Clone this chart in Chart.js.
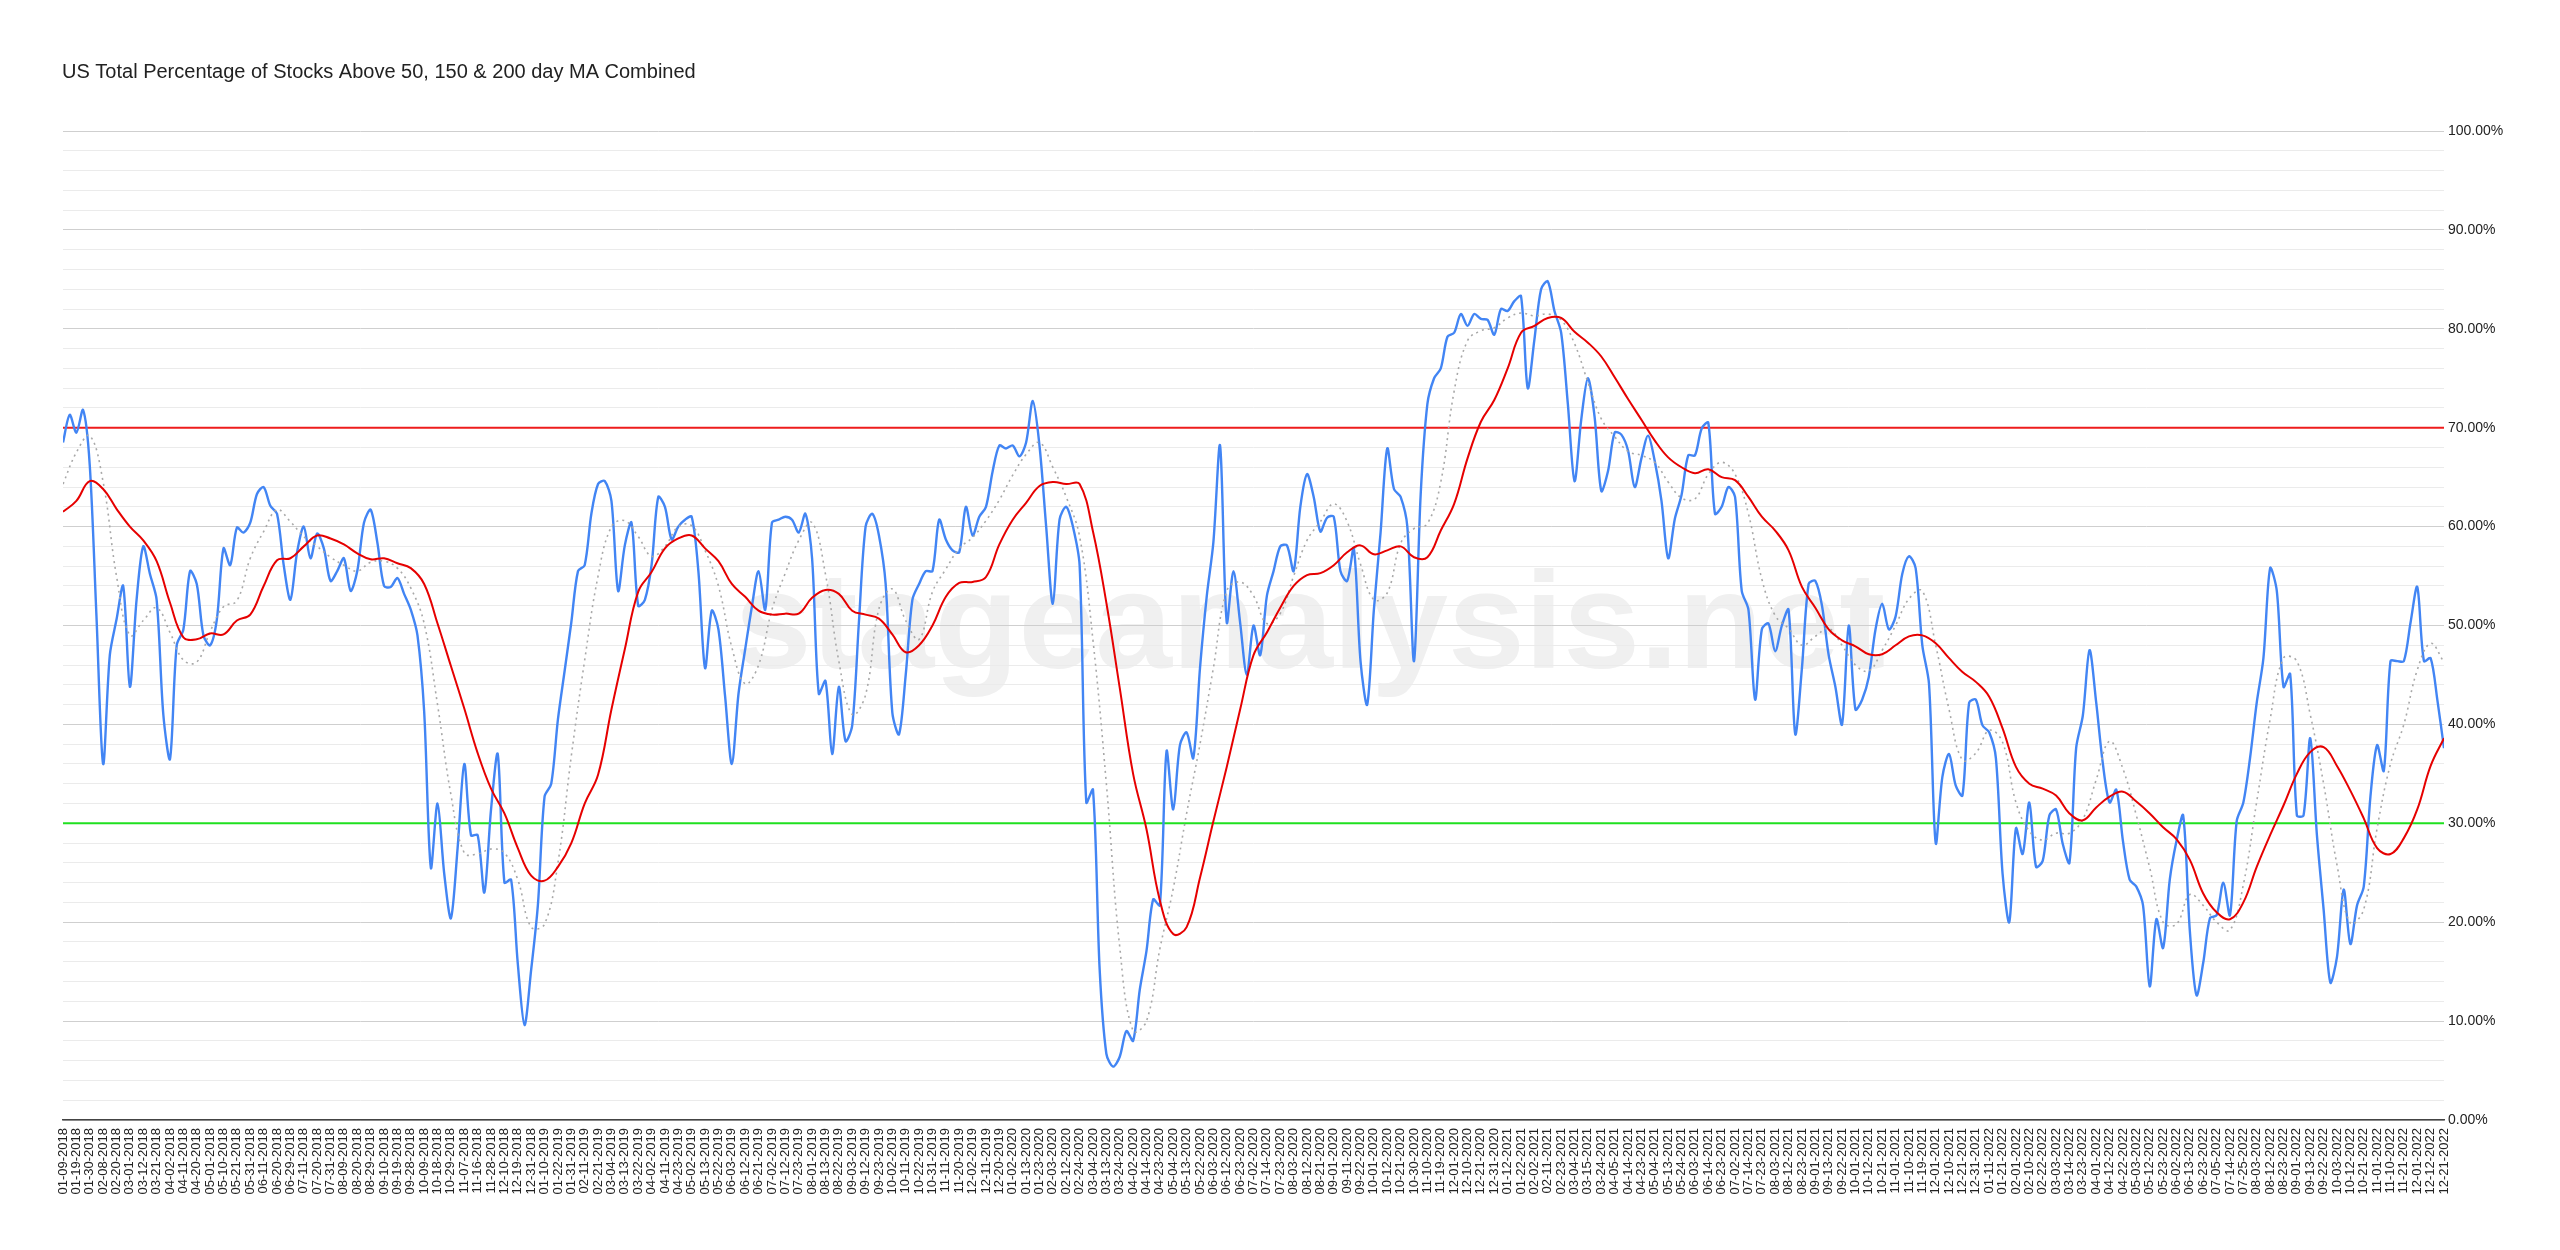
<!DOCTYPE html>
<html>
<head>
<meta charset="utf-8">
<title>US Total Percentage of Stocks Above 50, 150 & 200 day MA Combined</title>
<script src="https://cdn.jsdelivr.net/npm/chart.js@4.4.1/dist/chart.umd.min.js"></script>
<style>
  html, body { margin: 0; padding: 0; background: #fff; }
  #chart { display: block; }
</style>
</head>
<body>
<canvas id="chart" width="2560" height="1250"></canvas>
<script>
// tick labels on the x axis, one every ~7 sessions
const dates = [
  '01-09-2018','01-19-2018','01-30-2018','02-08-2018','02-20-2018','03-01-2018','03-12-2018','03-21-2018','04-02-2018','04-11-2018','04-20-2018','05-01-2018','05-10-2018','05-21-2018','05-31-2018','06-11-2018','06-20-2018','06-29-2018','07-11-2018','07-20-2018','07-31-2018','08-09-2018','08-20-2018','08-29-2018','09-10-2018','09-19-2018','09-28-2018','10-09-2018','10-18-2018','10-29-2018','11-07-2018','11-16-2018','11-28-2018','12-10-2018','12-19-2018','12-31-2018',
  '01-10-2019','01-22-2019','01-31-2019','02-11-2019','02-21-2019','03-04-2019','03-13-2019','03-22-2019','04-02-2019','04-11-2019','04-23-2019','05-02-2019','05-13-2019','05-22-2019','06-03-2019','06-12-2019','06-21-2019','07-02-2019','07-12-2019','07-23-2019','08-01-2019','08-13-2019','08-22-2019','09-03-2019','09-12-2019','09-23-2019','10-02-2019','10-11-2019','10-22-2019','10-31-2019','11-11-2019','11-20-2019','12-02-2019','12-11-2019','12-20-2019',
  '01-02-2020','01-13-2020','01-23-2020','02-03-2020','02-12-2020','02-24-2020','03-04-2020','03-13-2020','03-24-2020','04-02-2020','04-14-2020','04-23-2020','05-04-2020','05-13-2020','05-22-2020','06-03-2020','06-12-2020','06-23-2020','07-02-2020','07-14-2020','07-23-2020','08-03-2020','08-12-2020','08-21-2020','09-01-2020','09-11-2020','09-22-2020','10-01-2020','10-12-2020','10-21-2020','10-30-2020','11-10-2020','11-19-2020','12-01-2020','12-10-2020','12-21-2020','12-31-2020',
  '01-12-2021','01-22-2021','02-02-2021','02-11-2021','02-23-2021','03-04-2021','03-15-2021','03-24-2021','04-05-2021','04-14-2021','04-23-2021','05-04-2021','05-13-2021','05-24-2021','06-03-2021','06-14-2021','06-23-2021','07-02-2021','07-14-2021','07-23-2021','08-03-2021','08-12-2021','08-23-2021','09-01-2021','09-13-2021','09-22-2021','10-01-2021','10-12-2021','10-21-2021','11-01-2021','11-10-2021','11-19-2021','12-01-2021','12-10-2021','12-21-2021','12-31-2021',
  '01-11-2022','01-21-2022','02-01-2022','02-10-2022','02-22-2022','03-03-2022','03-14-2022','03-23-2022','04-01-2022','04-12-2022','04-22-2022','05-03-2022','05-12-2022','05-23-2022','06-02-2022','06-13-2022','06-23-2022','07-05-2022','07-14-2022','07-25-2022','08-03-2022','08-12-2022','08-23-2022','09-01-2022','09-13-2022','09-22-2022','10-03-2022','10-12-2022','10-21-2022','11-01-2022','11-10-2022','11-21-2022','12-01-2022','12-12-2022','12-21-2022'
];

// combined % above MAs, two readings per date label (half-label steps)
const combined = [
  68.5,71.3,69.5,71.8,66.2,51,36,47,50.6,54,
  43.8,52.6,58,55.2,52.6,41,36.5,48,49.6,55.5,
  54.2,49,48,50.6,57.8,56.1,59.9,59.4,60.4,63.3,
  64,62.1,61.3,56.1,52.6,57.4,60,56.8,59.3,57.8,
  54.5,55.5,56.8,53.5,55.5,60.4,61.7,58.4,54,53.9,
  54.8,53.2,51.6,49,41.3,25.5,32,24.9,20.4,27.5,
  36,28.8,28.8,23,31.4,37,24,24.3,15.8,9.6,
  15.2,21.7,32.7,34,40.5,45.4,50.3,55.5,56.1,61.3,
  64.3,64.6,62.6,53.5,58.1,60.4,52,52.6,56.1,63,
  62,58.7,60,60.7,61,55.5,45.7,51.5,49.6,42.8,
  36,43.1,47.6,51.9,55.5,51.6,60.4,60.7,61,60.7,
  59.4,61.3,56.8,43.1,44.4,37,43.8,38.3,39.9,50.3,
  60,61.3,59.1,54.2,41.2,39,45,52.6,54.2,55.5,
  55.5,60.7,58.7,57.6,57.4,62,59.1,61,62,65.6,
  68.2,67.9,68.2,67.1,68.5,72.7,68.2,60,52.2,60.7,
  62,60,56.1,32.1,33.4,15.2,6.7,5.4,6.4,9,
  8,13.2,17.1,22.3,21.7,37.3,31.4,37.9,39.2,36.6,
  45.7,52.9,58.4,68.2,50.3,55.5,50.3,45,50,47,
  53,55.5,58,58.1,55.5,62,65.3,63,59.5,60.9,
  61,55.5,54.5,57.8,46.4,42,51.6,59.4,67.9,63.8,
  63,60,46.4,63.3,72.4,75,76,79.2,79.6,81.5,
  80.3,81.5,81,80.9,79.4,82,81.8,82.8,83.3,74,
  78.9,84,84.8,81.8,79.6,72.4,64.6,70.8,75,71.1,
  63.6,65.6,69.5,69.3,67.7,64,66.9,69.2,66.6,62.6,
  56.8,60.8,63.2,67.2,67.2,69.9,70.5,61.3,62,64,
  63,53.5,51.6,42.5,49.6,50.2,47.4,50,51.6,39,
  45.7,54.2,54.5,52,47,43.8,40,50,41.5,42.5,
  44.8,49.6,52.2,49.6,50.9,55.2,57,55.8,48,44.1,
  28,34.7,37,33.8,32.8,42.2,42.5,39.9,39.2,36.6,
  24.9,20,29.5,26.9,32.1,25.6,26.2,30.8,31.4,27.9,
  26,37.6,40.9,47.5,42.2,36,32.1,33.4,28.2,24.3,
  23.6,21.7,13.5,20.3,17.4,24.3,28.2,30.8,19.1,12.6,
  15.9,20.4,20.7,24,20.7,30.2,32.1,36.6,42.2,46.7,
  55.8,53.5,43.8,45.1,30.8,30.8,38.6,28.8,21.3,13.9,
  16.5,23.3,17.8,21.7,23.6,32.7,37.9,35.3,46.4,46.4,
  46.4,50.3,53.9,46.4,46.7,42.5,37.6
];

// slow moving average (red), one per date label
const maSlow = [
  61.5,62.6,64.6,63.8,61.8,60,58.6,56.5,52.3,48.8,
  48.6,49.2,49.1,50.5,51.1,54,56.6,56.8,58,59.1,
  58.8,58.2,57.3,56.7,56.8,56.3,55.8,54.2,50.2,45.9,
  41.6,37.1,33.5,31,27.5,24.7,24.2,25.6,28,32,
  34.9,41.5,47.6,53.4,55.4,57.8,58.8,59.1,57.8,56.5,
  54.2,52.9,51.5,51.1,51.2,51.2,52.8,53.6,53.2,51.5,
  51.1,50.7,49.1,47.3,48,50,52.9,54.3,54.4,54.9,
  58.2,60.7,62.4,64.1,64.5,64.3,64.3,59.5,52.3,43.7,
  35,29.4,22.2,18.8,19.5,24.5,30.2,35.7,41.5,47,
  49.3,51.8,54,55.1,55.3,56.1,57.4,58.1,57.2,57.6,
  58,56.9,56.9,59.6,62.3,66.9,70.6,72.8,76,79.6,
  80.3,81.1,81.1,79.7,78.6,77.2,75.1,72.9,70.8,68.7,
  67,66,65.4,65.8,65,64.7,63,61,59.6,57.6,
  53.9,51.8,49.6,48.5,47.9,47.1,47.1,48,48.9,49,
  48.2,46.7,45.3,44.3,42.8,39.6,35.7,34,33.5,32.8,
  31,30.3,31.6,32.7,33.2,32.2,31,29.6,28.4,26.3,
  22.9,21,20.3,22,25.6,28.8,31.8,35,37.2,37.7,
  35.8,33.3,30.5,27.5,26.9,28.5,31.4,35.8,38.6
];

// fast moving average (grey dotted), one per date label
const maFast = [
  64.3,67.5,69.2,64.5,55,49,50.5,51.8,49.3,46.5,
  46.3,49.4,51.9,52.5,56.8,59.5,61.7,60.5,59,58,
  56.9,56.1,55.5,56.4,56.5,55.8,53.8,50.2,42,32.9,
  27,26.9,27.4,27,24.3,19.5,19.8,26,36.8,46.5,
  55,60,60.6,59,57,58,60,60.1,57.6,54,
  47.8,44.1,46,51.6,55.3,58.6,60.4,55.2,46.4,41,
  43,51.7,53.7,50.5,48.6,53.4,55.7,57.8,58.9,60.6,
  62.7,65.2,67.3,68.5,66,63,59,48.5,34,17.5,
  9,10,17.3,23.4,31,38,45.7,53.5,54.4,53,
  50.2,51.2,55,58.6,60.5,62.3,60.5,56.2,52.6,53.3,
  58.3,59.8,60.3,64.5,73.7,78.8,79.8,80.1,81.1,81.6,
  81.3,81.5,80.9,78.5,74.6,70.9,69.1,67.6,67.2,66.5,
  64.5,62.9,62.8,65.3,66.5,65.3,61.3,54.7,51,49.7,
  48,48.9,49.7,48,46,45.4,47.5,50,52.7,53.5,
  48,41.5,36.4,37.1,39.4,38.2,32.1,29.2,28.3,29,
  29,30.4,34.4,38.3,35.5,30.8,25.5,20,19.8,22.8,
  21.7,20,19.2,23.8,32.2,40.5,46.7,46.4,41,34,
  25.8,19.9,21.3,29.5,36,40,45.5,48.2,46.3
];

const upperLevel = 70;
const lowerLevel = 30;

const FONT = '"Liberation Sans", Arial, Helvetica, sans-serif';
const last = dates.length - 1;

const levelLine = (v) => [{ x: 0, y: v }, { x: last, y: v }];

// white page, title and the faint site watermark
const decor = {
  id: 'decor',
  beforeDraw(chart) {
    const c = chart.ctx;
    c.save();
    c.fillStyle = '#fff';
    c.fillRect(0, 0, chart.width, chart.height);
    c.fillStyle = '#f0f0f0';
    c.font = 'bold 138px ' + FONT;
    c.textAlign = 'center';
    c.textBaseline = 'alphabetic';
    c.fillText('stageanalysis.net', 1310, 668);
    c.restore();
  },
  afterDraw(chart) {
    const c = chart.ctx;
    c.save();
    c.fillStyle = '#222';
    c.font = '20px ' + FONT;
    c.textBaseline = 'middle';
    c.fillText('US Total Percentage of Stocks Above 50, 150 & 200 day MA Combined', 62, 72);
    c.restore();
  }
};

new Chart(document.getElementById('chart'), {
  type: 'line',
  data: {
    datasets: [
      {
        label: 'Upper',
        data: levelLine(upperLevel),
        borderColor: '#ee1c1c',
        borderWidth: 2,
        pointRadius: 0,
        order: 4
      },
      {
        label: 'Lower',
        data: levelLine(lowerLevel),
        borderColor: '#1fe01f',
        borderWidth: 2,
        pointRadius: 0,
        order: 4
      },
      {
        label: 'Combined',
        data: combined.map((v, k) => ({ x: k / 2, y: v })),
        borderColor: '#4285f4',
        borderWidth: 2.4,
        pointRadius: 0,
        tension: 0.3,
        order: 3
      },
      {
        label: 'MA fast',
        data: maFast.map((v, i) => ({ x: i, y: v })),
        borderColor: '#a8a8a8',
        borderWidth: 1.6,
        borderDash: [2, 4],
        pointRadius: 0,
        tension: 0.4,
        order: 2
      },
      {
        label: 'MA slow',
        data: maSlow.map((v, i) => ({ x: i, y: v })),
        borderColor: '#e60000',
        borderWidth: 2,
        pointRadius: 0,
        tension: 0.4,
        order: 1
      }
    ]
  },
  options: {
    responsive: false,
    animation: false,
    devicePixelRatio: 1,
    layout: { padding: { top: 131, left: 63, right: 0, bottom: 0 } },
    plugins: {
      legend: { display: false },
      title: { display: false },
      tooltip: { enabled: false }
    },
    scales: {
      x: {
        type: 'linear',
        min: 0,
        max: last,
        afterFit: (s) => { s.height = 130; },
        grid: { display: false, drawTicks: false },
        border: { display: true, color: '#444', width: 1.5 },
        ticks: {
          stepSize: 1,
          autoSkip: false,
          maxRotation: 90,
          minRotation: 90,
          padding: 8,
          color: '#222',
          font: { family: FONT, size: 13 },
          callback: (v) => dates[v] ?? ''
        }
      },
      y: {
        position: 'right',
        min: 0,
        max: 100,
        afterFit: (s) => { s.width = 116; },
        border: { display: false },
        grid: {
          drawTicks: false,
          color: (ctx) => (ctx.tick.value % 10 === 0 ? '#cfcfcf' : '#ebebeb'),
          lineWidth: 1
        },
        ticks: {
          stepSize: 2,
          autoSkip: false,
          padding: 4,
          color: '#222',
          font: { family: FONT, size: 14 },
          callback: (v) => (v % 10 === 0 ? v.toFixed(2) + '%' : '')
        }
      }
    }
  },
  plugins: [decor]
});
</script>
</body>
</html>
